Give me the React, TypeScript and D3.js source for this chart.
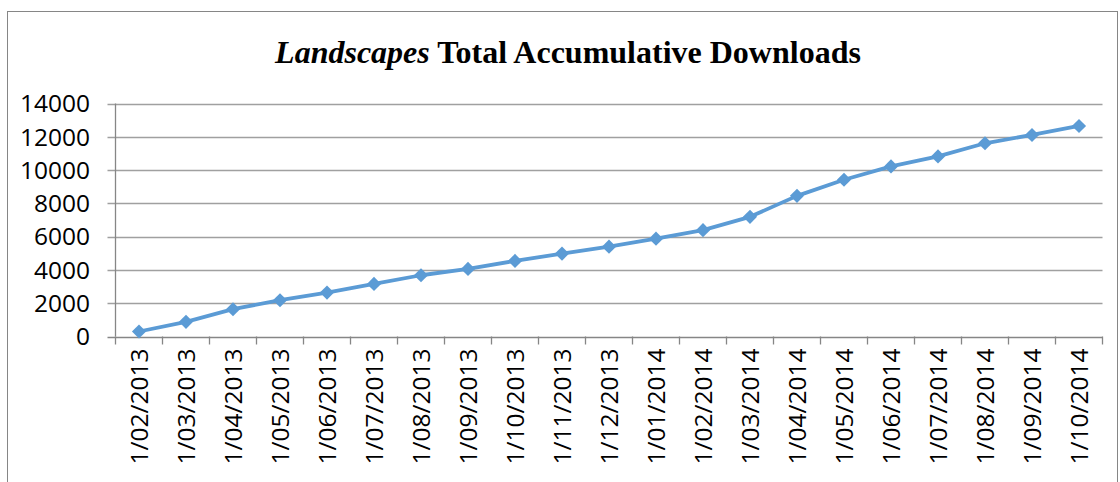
import React from 'react';
import * as d3 from 'd3';

const months = [
  '1/02/2013', '1/03/2013', '1/04/2013', '1/05/2013', '1/06/2013', '1/07/2013',
  '1/08/2013', '1/09/2013', '1/10/2013', '1/11/2013', '1/12/2013', '1/01/2014',
  '1/02/2014', '1/03/2014', '1/04/2014', '1/05/2014', '1/06/2014', '1/07/2014',
  '1/08/2014', '1/09/2014', '1/10/2014',
];
const downloads = [
  300, 880, 1640, 2180, 2640, 3160, 3680, 4060, 4540, 4980, 5400, 5880,
  6390, 7190, 8450, 9420, 10220, 10820, 11610, 12110, 12650,
];
const yTicks = [0, 2000, 4000, 6000, 8000, 10000, 12000, 14000];

const W = 1120;
const H = 482;
const margin = { top: 103.5, right: 17.5, bottom: 145.5, left: 115.5 };

export default function App() {
  const x = d3
    .scaleBand<string>()
    .domain(months)
    .range([margin.left, W - margin.right])
    .padding(0);
  const y = d3
    .scaleLinear()
    .domain([0, 14000])
    .range([H - margin.bottom, margin.top]);

  const line = d3
    .line<number>()
    .x((_, i) => x(months[i])! + x.bandwidth() / 2)
    .y((d) => y(d));

  const diamond = d3.symbol(d3.symbolSquare, 100)();
  const y0 = y(0);
  const tickFont = '"Open Sans", "Liberation Sans", sans-serif';

  return (
    <svg
      width={W}
      height={H}
      style={{ position: 'absolute', left: 0, top: 0, background: '#fff' }}
    >
      <rect x={7.5} y={11.5} width={1110} height={500} fill="#fff" stroke="#868686" />

      <text
        x={568}
        y={63}
        textAnchor="middle"
        fontFamily='"Liberation Serif", "Times New Roman", serif'
        fontWeight="bold"
        fontSize={32}
      >
        <tspan fontStyle="italic">Landscapes</tspan> Total Accumulative Downloads
      </text>

      {/* gridlines */}
      {yTicks.map((t) => (
        <line
          key={t}
          x1={margin.left - 8}
          x2={W - margin.right}
          y1={Math.round(y(t)) + 0.5}
          y2={Math.round(y(t)) + 0.5}
          stroke={t === 0 ? '#868686' : '#a0a0a0'}
          strokeWidth={1.3}
        />
      ))}

      {/* y axis */}
      <line x1={margin.left} x2={margin.left} y1={margin.top} y2={y0} stroke="#868686" strokeWidth={1.3} />
      {yTicks.map((t) => (
        <text
          key={t}
          x={90}
          y={y(t)}
          dy="0.36em"
          textAnchor="end"
          fontFamily={tickFont}
          fontSize={24.5}
          fill="#000"
        >
          {t}
        </text>
      ))}

      {/* x ticks */}
      {months.concat(['end']).map((m, i) => {
        const xx = margin.left + i * x.bandwidth();
        return (
          <line key={m} x1={xx} x2={xx} y1={y0} y2={y0 + 8} stroke="#868686" strokeWidth={1.3} />
        );
      })}
      {months.map((m) => {
        const cx = x(m)! + x.bandwidth() / 2;
        return (
          <text
            key={m}
            transform={`translate(${cx},${y0 + 12}) rotate(-90)`}
            dy="0.36em"
            textAnchor="end"
            fontFamily={tickFont}
            fontSize={24.5}
            fill="#000"
          >
            {m}
          </text>
        );
      })}

      <path d={line(downloads) ?? ''} fill="none" stroke="#5B9BD5" strokeWidth={3.8} strokeLinejoin="round" />
      {downloads.map((d, i) => (
        <path
          key={i}
          d={diamond ?? ''}
          transform={`translate(${x(months[i])! + x.bandwidth() / 2},${y(d)}) rotate(45)`}
          fill="#5B9BD5"
        />
      ))}
    </svg>
  );
}
